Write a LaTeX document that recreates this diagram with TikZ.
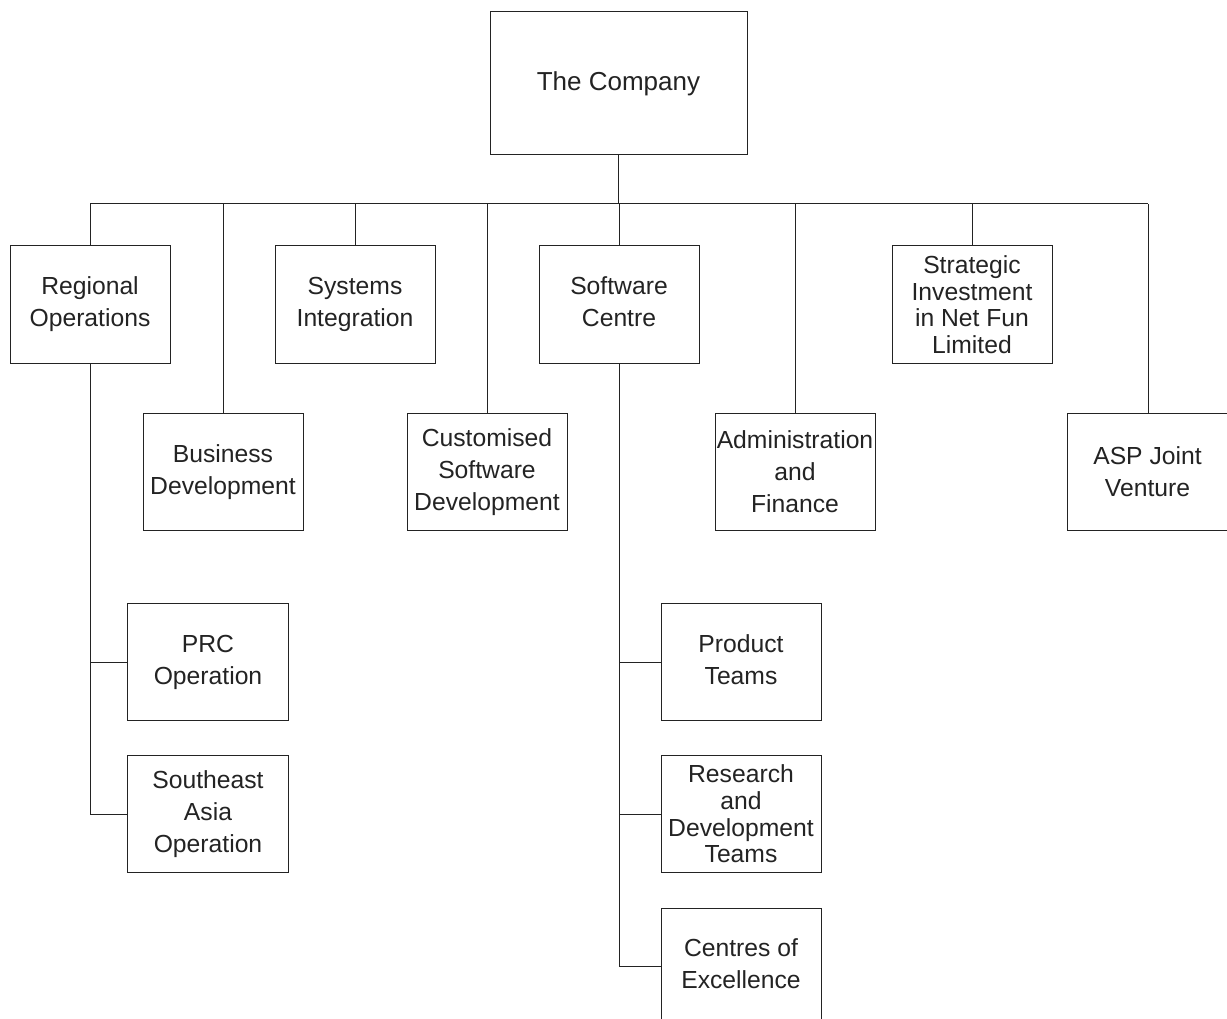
\documentclass[tikz,border=0pt]{standalone}
\usepackage{fontspec}
\setmainfont{Liberation Sans}
\definecolor{ink}{RGB}{35,35,35}
\begin{document}
\begin{tikzpicture}[x=1pt,y=-1pt,
  box/.style={draw=ink, line width=1pt, minimum width=160pt, minimum height=117pt,
    inner sep=0pt, align=center, text=ink, font=\fontsize{24.7}{32}\selectfont},
  tightbox/.style={box, font=\fontsize{24.7}{26.6}\selectfont},
  link/.style={draw=ink, line width=1pt}]
\path[use as bounding box] (0,0) rectangle (1227,1019);
\clip (0,0) rectangle (1227,1019);
% top
\node[box, minimum width=257pt, minimum height=143pt, font=\fontsize{26}{32}\selectfont] (company) at (618.5,83.5) {The Company};
% first level
\node[box] (reg) at (90,304.5) {Regional\\Operations};
\node[box] (bus) at (223,472) {Business\\Development};
\node[box] (sys) at (355,304.5) {Systems\\Integration};
\node[box] (cust) at (487,472) {Customised\\Software\\Development};
\node[box] (soft) at (619,304.5) {Software\\Centre\vphantom{p}};
\node[box] (admin) at (795,472) {Administration\\and\\Finance};
\node[tightbox] (strat) at (972,304.5) {Strategic\\Investment\\in Net Fun\\Limited};
\node[box] (asp) at (1147.5,472) {ASP Joint\\Venture};
% second level
\node[box, minimum width=161pt] (prc) at (208,662) {PRC\\Operation};
\node[box, minimum width=161pt] (sea) at (208,814) {Southeast\\Asia\\Operation};
\node[box] (prod) at (741,662) {Product\\Teams\vphantom{p}};
\node[tightbox] (rnd) at (741,814) {Research\\and\\Development\\Teams};
\node[box] (coe) at (741,966.5) {Centres of\\Excellence\vphantom{p}};
% bus
\coordinate (busL) at (90,204);
\coordinate (busR) at (1148,204);
\path[link] (busL) -- (busR);
\path[link] (company.south) -- (company.south |- busL);
\foreach \n in {reg,bus,sys,cust,soft,admin,strat}{
  \path[link] (\n.north) -- (\n.north |- busL);
}
\path[link] (asp.north -| busR) -- (busR);
% branches
\path[link] (reg.south) |- (sea.west);
\path[link] (reg.south |- prc.west) -- (prc.west);
\path[link] (soft.south) |- (coe.west);
\path[link] (soft.south |- prod.west) -- (prod.west);
\path[link] (soft.south |- rnd.west) -- (rnd.west);
\end{tikzpicture}
\end{document}
